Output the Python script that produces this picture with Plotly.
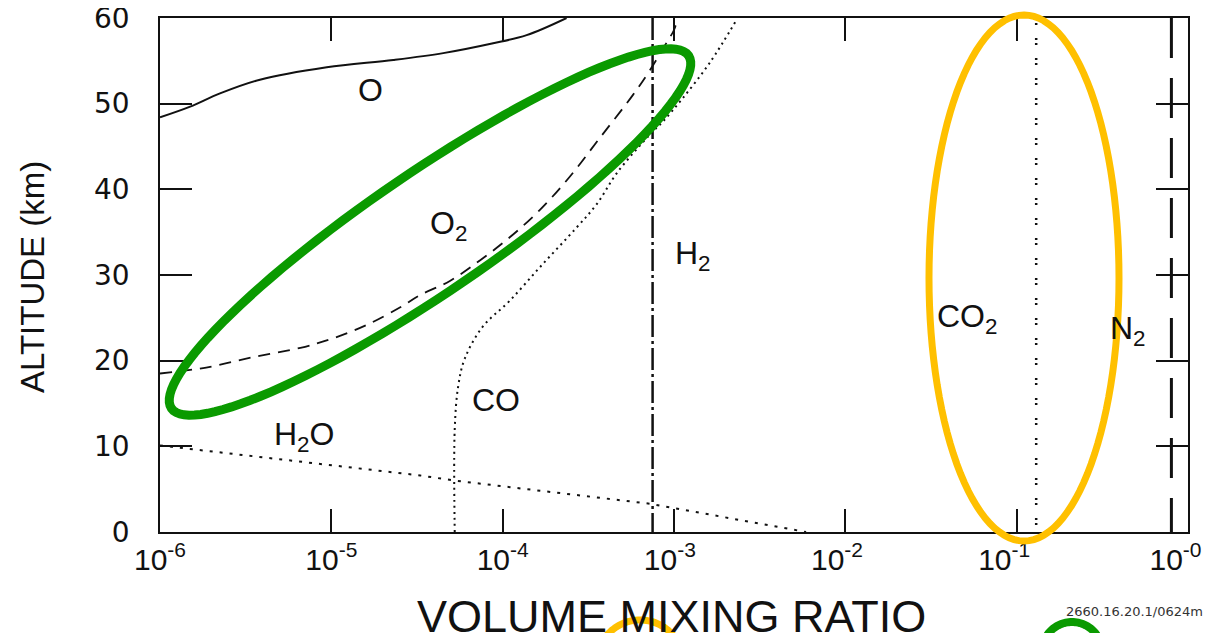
import numpy as np
import plotly.graph_objects as go

# ---------------- data ----------------
o_x = [1.0e-6, 1.5e-6, 2.24e-6, 3.83e-6, 9.4e-6, 2.3e-5, 4.5e-5, 8.8e-5, 1.38e-4, 2.36e-4]
o_alt = [48.4, 49.65, 51.2, 52.8, 54.25, 55.1, 55.9, 57.05, 58.0, 60.0]

o2_x = [1.0e-6, 1.86e-6, 3.47e-6, 6.6e-6, 1.02e-5, 1.62e-5, 2.51e-5, 3.29e-5, 4.92e-5,
        7.36e-5, 1.10e-4, 1.65e-4, 2.47e-4, 3.69e-4, 5.75e-4, 7.23e-4, 9.10e-4, 1.0e-3, 1.05e-3]
o2_alt = [18.5, 19.2, 20.4, 21.5, 22.6, 24.2, 26.2, 27.65, 29.3,
          31.7, 34.4, 37.6, 41.5, 46.0, 51.0, 53.9, 57.2, 58.6, 60.0]

co_x = [5.25e-5, 5.25e-5, 5.5e-5, 6.0e-5, 7.6e-5, 1.1e-4, 1.7e-4, 2.69e-4, 3.55e-4,
        4.68e-4, 7.24e-4, 8.6e-4, 1.12e-3, 1.62e-3, 2.32e-3]
co_alt = [0.0, 12.0, 17.0, 20.2, 23.9, 27.0, 31.2, 35.5, 38.3,
          42.0, 46.4, 47.9, 50.6, 54.8, 59.8]

h2o_x = [1.0e-6, 1.02e-5, 3.3e-5, 5.25e-5, 7.24e-4, 5.9e-3]
h2o_alt = [10.1, 7.8, 6.6, 6.0, 3.3, 0.0]

h2_x = [7.5e-4, 7.5e-4]
h2_alt = [60.0, 0.0]

co2_x = [0.13, 0.13]
co2_alt = [60.0, 0.0]

n2_x = [0.8, 0.8]
n2_alt = [60.0, 0.0]

NB = "&nbsp;"
x_tickvals = [1e-6, 1e-5, 1e-4, 1e-3, 1e-2, 1e-1, 1e0]
x_ticktext = ["10<sup>-6</sup>", "10<sup>-5</sup>", "10<sup>-4</sup>", "10<sup>-3</sup>" + NB,
              "10<sup>-2</sup>" + NB * 2, "10<sup>-1</sup>" + NB * 3, "10<sup>-0</sup>" + NB * 3]
y_tickvals = [0, 10, 20, 30, 40, 50, 60]

labels = ["O", "O<sub>2</sub>", "H<sub>2</sub>", "CO", "H<sub>2</sub>O", "CO<sub>2</sub>", "N<sub>2</sub>"]
label_x = [1.39e-5, 3.66e-5, 9.84e-4, 6.44e-5, 4.5e-6, 3.33e-2, 0.34]
label_alt = [51.6, 35.8, 32.3, 15.4, 11.1, 24.9, 23.5]

# ---------------- layout geometry ----------------
# the page body adds an 8 px offset, so the figure is shrunk by that amount
OFF = 8
W, H = 1217 - OFF, 633 - OFF
ML, MR, MT, MB = 160 - OFF, 29, 18 - OFF, 101
PW, PH = W - ML - MR, H - MT - MB
PLOT_L, PLOT_B = 160, 532   # plot-area edges in screen pixels


def to_paper(px, py):
    return (px - PLOT_L) / PW, (PLOT_B - py) / PH


def ellipse_path(cx, cy, a, b, ang_deg, n=120):
    th = np.deg2rad(ang_deg)
    ux, uy = np.cos(th), -np.sin(th)
    nx, ny = np.sin(th), np.cos(th)
    t = np.linspace(0, 2 * np.pi, n, endpoint=False)
    px = cx + a * np.cos(t) * ux + b * np.sin(t) * nx
    py = cy + a * np.cos(t) * uy + b * np.sin(t) * ny
    pts = [to_paper(x, y) for x, y in zip(px, py)]
    return "M " + " L ".join(f"{x:.5f},{y:.5f}" for x, y in pts) + " Z"


fig = go.Figure()

BLACK = "#111111"
fig.add_trace(go.Scatter(x=o_x, y=o_alt, mode="lines", line=dict(color=BLACK, width=2), line_shape="spline"))
fig.add_trace(go.Scatter(x=o2_x, y=o2_alt, mode="lines", line=dict(color=BLACK, width=1.8, dash="12px,8px"), line_shape="spline"))
fig.add_trace(go.Scatter(x=co_x, y=co_alt, mode="lines", line=dict(color=BLACK, width=2, dash="2px,4px"), line_shape="spline"))
fig.add_trace(go.Scatter(x=h2o_x, y=h2o_alt, mode="lines", line=dict(color=BLACK, width=2, dash="3px,7px")))
fig.add_trace(go.Scatter(x=h2_x, y=h2_alt, mode="lines", line=dict(color=BLACK, width=2.5, dash="22px,4px,3px,4px")))
fig.add_trace(go.Scatter(x=co2_x, y=co2_alt, mode="lines", line=dict(color=BLACK, width=2.5, dash="2px,3px,2px,13px")))
fig.add_trace(go.Scatter(x=n2_x, y=n2_alt, mode="lines", line=dict(color=BLACK, width=3, dash="40px,20px")))

annotations = []
for t, lx, la in zip(labels, label_x, label_alt):
    annotations.append(dict(x=np.log10(lx), y=la, xref="x", yref="y", text=t, showarrow=False,
                            xanchor="left", yanchor="middle",
                            font=dict(family="Liberation Sans", size=32, color=BLACK)))

px_, py_ = to_paper(32, 277)
annotations.append(dict(x=px_, y=py_, xref="paper", yref="paper", text="ALTITUDE (km)", textangle=-90,
                        showarrow=False, xanchor="center", yanchor="middle",
                        font=dict(family="Liberation Sans", size=33, color=BLACK)))
px_, py_ = to_paper(671, 616)
annotations.append(dict(x=px_, y=py_, xref="paper", yref="paper", text="VOLUME MIXING RATIO",
                        showarrow=False, xanchor="center", yanchor="middle",
                        font=dict(family="Liberation Sans", size=45, color=BLACK)))
px_, py_ = to_paper(1134, 611)
annotations.append(dict(x=px_, y=py_, xref="paper", yref="paper", text="2660.16.20.1/0624m",
                        showarrow=False, xanchor="center", yanchor="middle",
                        font=dict(family="DejaVu Sans", size=13, color="#333333")))

shapes = [
    dict(type="path", xref="paper", yref="paper", path=ellipse_path(430, 232, 313, 60, 34.3),
         line=dict(color="#0a9a00", width=9), layer="above"),
    dict(type="path", xref="paper", yref="paper", path=ellipse_path(1024, 278, 263, 95, 90),
         line=dict(color="#ffc000", width=7), layer="above"),
    dict(type="path", xref="paper", yref="paper", path=ellipse_path(640, 660, 42, 40, 0),
         line=dict(color="#ffc000", width=7), layer="above"),
    dict(type="path", xref="paper", yref="paper", path=ellipse_path(1072, 652, 30, 30, 0),
         line=dict(color="#0a9a00", width=8), layer="above"),
]

fig.update_layout(
    template="none",
    width=W, height=H,
    margin=dict(l=ML, r=MR, t=MT, b=MB, pad=0, autoexpand=False),
    paper_bgcolor="white", plot_bgcolor="white",
    showlegend=False,
    annotations=annotations,
    shapes=shapes,
    xaxis=dict(type="log", range=[-6, 0], tickvals=x_tickvals, ticktext=x_ticktext,
               ticks="inside", ticklen=23, tickwidth=1.5, tickcolor=BLACK,
               showline=True, linecolor=BLACK, linewidth=1.5, mirror="ticks",
               showgrid=False, zeroline=False, ticklabelstandoff=0, automargin=False,
               ticklabeloverflow="allow",
               tickfont=dict(family="Liberation Sans", size=30, color=BLACK)),
    yaxis=dict(range=[0, 60], tickvals=y_tickvals,
               ticks="inside", ticklen=32, tickwidth=1.5, tickcolor=BLACK,
               showline=True, linecolor=BLACK, linewidth=1.5, mirror="ticks",
               showgrid=False, zeroline=False, ticklabelstandoff=23, automargin=False,
               ticklabeloverflow="allow",
               tickfont=dict(family="DejaVu Sans", size=28, color=BLACK)),
)

fig.write_html("out.html")
